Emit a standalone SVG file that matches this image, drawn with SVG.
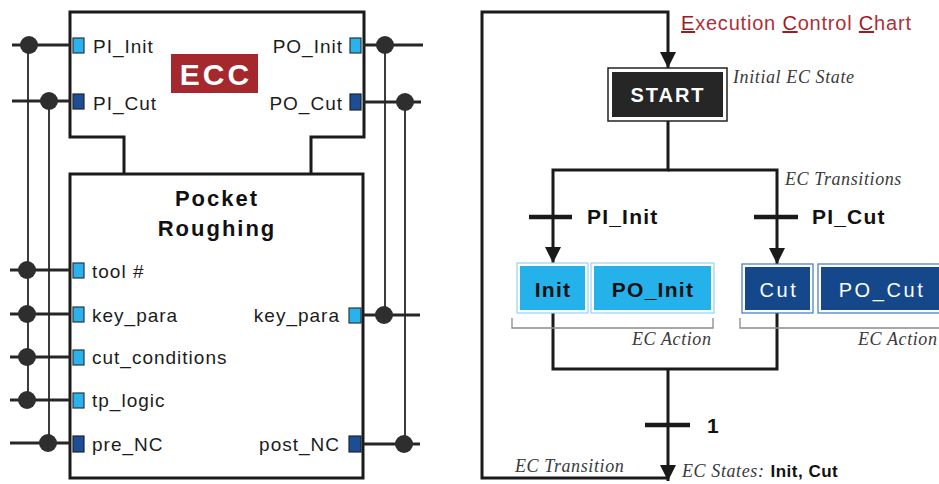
<svg xmlns="http://www.w3.org/2000/svg" width="939" height="484" viewBox="0 0 939 484">
  <defs>
    <style>
      .sans { font-family: "Liberation Sans", Arial, sans-serif; }
      .note { font-family: "Liberation Serif", "Times New Roman", serif; font-style: italic; font-size: 18px; fill: #3a3a3a; letter-spacing: 0.6px; }
      .outline { fill: none; stroke: #1a1a1a; stroke-width: 3; }
      .port-lbl { font-family: "Liberation Sans", Arial, sans-serif; font-size: 19px; fill: #1c1c1c; letter-spacing: 1px; }
      .port-lt { fill: #29b3ec; stroke: #2b3440; stroke-width: 1.2; }
      .port-dk { fill: #1b4e95; stroke: #1e2530; stroke-width: 1.2; }
      .wire { fill: none; stroke: #262626; stroke-width: 3; }
      .bus { fill: none; stroke: #262626; stroke-width: 1.8; }
      .dot { fill: #2e2e2e; }
      .flow { fill: none; stroke: #1a1a1a; stroke-width: 3; }
      .bar { fill: none; stroke: #1a1a1a; stroke-width: 4.5; }
      .trans { font-family: "Liberation Sans", Arial, sans-serif; font-size: 21px; font-weight: bold; fill: #111; letter-spacing: 1.2px; }
      .bracket { fill: none; stroke: #8a8a8a; stroke-width: 1.3; }
      .act-lt-frame { fill: #ffffff; stroke: #8fd6f3; stroke-width: 1.2; }
      .act-lt { fill: #25b2ea; }
      .act-dk-frame { fill: #ffffff; stroke: #3d78bb; stroke-width: 1.2; }
      .act-dk { fill: #15488b; }
      .act-txt-lt { font-family: "Liberation Sans", Arial, sans-serif; font-size: 21px; font-weight: bold; fill: #111; letter-spacing: 1.3px; text-anchor: middle; }
      .act-txt-dk { font-family: "Liberation Sans", Arial, sans-serif; font-size: 20px; fill: #ffffff; letter-spacing: 2.6px; text-anchor: middle; }
    </style>
    <marker id="arrow" viewBox="0 0 16 16" refX="16" refY="8" markerWidth="16" markerHeight="16" markerUnits="userSpaceOnUse" orient="auto">
      <path d="M0,0 L16,8 L0,16 Z" fill="#1a1a1a"/>
    </marker>
  </defs>

  <rect width="939" height="484" fill="#ffffff"/>

  <!-- ===== Function block: Pocket Roughing with its ECC interface ===== -->
  <g id="fb-block">
    <!-- event interface (upper part) with neck -->
    <path class="outline" d="M124,174 V137 H70 V12 H364 V137 H311 V174"/>
    <!-- data/body part -->
    <rect class="outline" x="70" y="174" width="293" height="304"/>
    <text class="sans" x="217" y="206" text-anchor="middle" font-size="22" font-weight="bold" letter-spacing="2" fill="#111">Pocket</text>
    <text class="sans" x="217" y="236" text-anchor="middle" font-size="22" font-weight="bold" letter-spacing="2" fill="#111">Roughing</text>
  </g>

  <g id="ecc-badge">
    <rect x="171" y="54" width="87" height="39" fill="#a4282c"/>
    <text class="sans" x="216" y="85" text-anchor="middle" font-size="30" font-weight="bold" letter-spacing="3" fill="#ffffff">ECC</text>
  </g>

  <!-- wiring of the block ports -->
  <g id="fb-wires">
    <!-- left side -->
    <path class="bus" d="M28,45 V400"/>
    <path class="bus" d="M49,101 V443"/>
    <path class="wire" d="M12,45 H70 M12,101 H70 M10,270 H70 M10,314 H70 M10,357 H70 M10,400 H70 M10,443 H70"/>
    <!-- right side -->
    <path class="bus" d="M385,45 V315"/>
    <path class="bus" d="M405,102 V444"/>
    <path class="wire" d="M363,45 H423 M363,102 H421 M363,315 H420 M363,444 H420"/>
    <!-- junction dots -->
    <circle class="dot" cx="29" cy="45" r="9"/>
    <circle class="dot" cx="49" cy="101" r="9"/>
    <circle class="dot" cx="27" cy="270" r="9"/>
    <circle class="dot" cx="27" cy="314" r="9"/>
    <circle class="dot" cx="27" cy="357" r="9"/>
    <circle class="dot" cx="27" cy="400" r="9"/>
    <circle class="dot" cx="48" cy="443" r="9"/>
    <circle class="dot" cx="385" cy="45" r="9"/>
    <circle class="dot" cx="405" cy="102" r="9"/>
    <circle class="dot" cx="384" cy="315" r="9"/>
    <circle class="dot" cx="404" cy="444" r="9"/>
  </g>

  <g id="port-pi-init">
    <rect class="port-lt" x="73" y="38" width="11" height="15"/>
    <text class="port-lbl" x="93" y="53">PI_Init</text>
  </g>
  <g id="port-pi-cut">
    <rect class="port-dk" x="73" y="94" width="11" height="15"/>
    <text class="port-lbl" x="93" y="110">PI_Cut</text>
  </g>
  <g id="port-po-init">
    <rect class="port-lt" x="350" y="38" width="11" height="15"/>
    <text class="port-lbl" x="343" y="53" text-anchor="end">PO_Init</text>
  </g>
  <g id="port-po-cut">
    <rect class="port-dk" x="350" y="94" width="11" height="16"/>
    <text class="port-lbl" x="343" y="110" text-anchor="end">PO_Cut</text>
  </g>
  <g id="port-tool">
    <rect class="port-lt" x="73" y="263" width="11" height="15"/>
    <text class="port-lbl" x="92" y="278">tool #</text>
  </g>
  <g id="port-key-para-in">
    <rect class="port-lt" x="73" y="307" width="11" height="15"/>
    <text class="port-lbl" x="92" y="322">key_para</text>
  </g>
  <g id="port-cut-conditions">
    <rect class="port-lt" x="73" y="350" width="11" height="15"/>
    <text class="port-lbl" x="92" y="364">cut_conditions</text>
  </g>
  <g id="port-tp-logic">
    <rect class="port-lt" x="73" y="393" width="11" height="15"/>
    <text class="port-lbl" x="92" y="407">tp_logic</text>
  </g>
  <g id="port-pre-nc">
    <rect class="port-dk" x="73" y="436" width="11" height="16"/>
    <text class="port-lbl" x="92" y="451">pre_NC</text>
  </g>
  <g id="port-key-para-out">
    <rect class="port-lt" x="349" y="308" width="12" height="15"/>
    <text class="port-lbl" x="340" y="322" text-anchor="end">key_para</text>
  </g>
  <g id="port-post-nc">
    <rect class="port-dk" x="349" y="436" width="12" height="16"/>
    <text class="port-lbl" x="340" y="451" text-anchor="end">post_NC</text>
  </g>

  <!-- ===== Execution Control Chart ===== -->
  <text class="sans" x="681" y="30" font-size="20" fill="#ac3038" letter-spacing="0.8"><tspan text-decoration="underline" fill="#9a1c24">E</tspan>xecution <tspan text-decoration="underline" fill="#9a1c24">C</tspan>ontrol <tspan text-decoration="underline" fill="#9a1c24">C</tspan>hart</text>

  <g id="connectors">
    <!-- return loop to START -->
    <path class="flow" d="M668,478 H482 V12 H668 V68" marker-end="url(#arrow)"/>
    <!-- START branches to the two states -->
    <path class="flow" d="M668,121 V170 H553 V263" marker-end="url(#arrow)"/>
    <path class="flow" d="M668,170 H777 V264" marker-end="url(#arrow)"/>
    <!-- states merge and leave through transition 1 -->
    <path class="flow" d="M553,313 V369 H777 V313"/>
    <path class="flow" d="M668,369 V481" marker-end="url(#arrow)"/>
    <!-- transition bars -->
    <path class="bar" d="M529,217 H572 M754,217 H798 M645,425 H690"/>
  </g>

  <g id="start">
    <rect x="608" y="68" width="119" height="53" fill="#ffffff" stroke="#222" stroke-width="1.5"/>
    <rect x="612" y="72" width="111" height="45" fill="#262626"/>
    <text class="sans" x="668" y="102" text-anchor="middle" font-size="20" font-weight="bold" letter-spacing="2" fill="#ffffff">START</text>
  </g>
  <text class="note" x="733" y="83">Initial EC State</text>
  <text class="note" x="785" y="185">EC Transitions</text>

  <g id="trans-pi-init">
    <text class="trans" x="587" y="224">PI_Init</text>
  </g>
  <g id="trans-pi-cut">
    <text class="trans" x="812" y="224">PI_Cut</text>
  </g>

  <g id="state-init">
    <rect class="act-lt-frame" x="517" y="263" width="71" height="50"/>
    <rect class="act-lt" x="520" y="266" width="65" height="44"/>
    <text class="act-txt-lt" x="553" y="297">Init</text>
    <rect class="act-lt-frame" x="591" y="263" width="123" height="50"/>
    <rect class="act-lt" x="594" y="266" width="117" height="44"/>
    <text class="act-txt-lt" x="653" y="297">PO_Init</text>
    <path class="bracket" d="M512,318 V328 H713 V318"/>
    <text class="note" x="632" y="345">EC Action</text>
  </g>

  <g id="state-cut">
    <rect class="act-dk-frame" x="742" y="264" width="71" height="49"/>
    <rect class="act-dk" x="745" y="267" width="65" height="43"/>
    <text class="act-txt-dk" x="779" y="297">Cut</text>
    <rect class="act-dk-frame" x="818" y="264" width="130" height="49"/>
    <rect class="act-dk" x="821" y="267" width="124" height="43"/>
    <text class="act-txt-dk" x="882" y="297">PO_Cut</text>
    <path class="bracket" d="M740,318 V328 H945"/>
    <text class="note" x="858" y="345">EC Action</text>
  </g>

  <g id="trans-one">
    <text class="trans" x="707" y="433">1</text>
  </g>
  <text class="note" x="515" y="472">EC Transition</text>
  <text x="682" y="477"><tspan class="note">EC States:</tspan><tspan class="sans" dx="6" font-size="17" font-weight="bold" fill="#111" letter-spacing="0.5">Init, Cut</tspan></text>
</svg>
